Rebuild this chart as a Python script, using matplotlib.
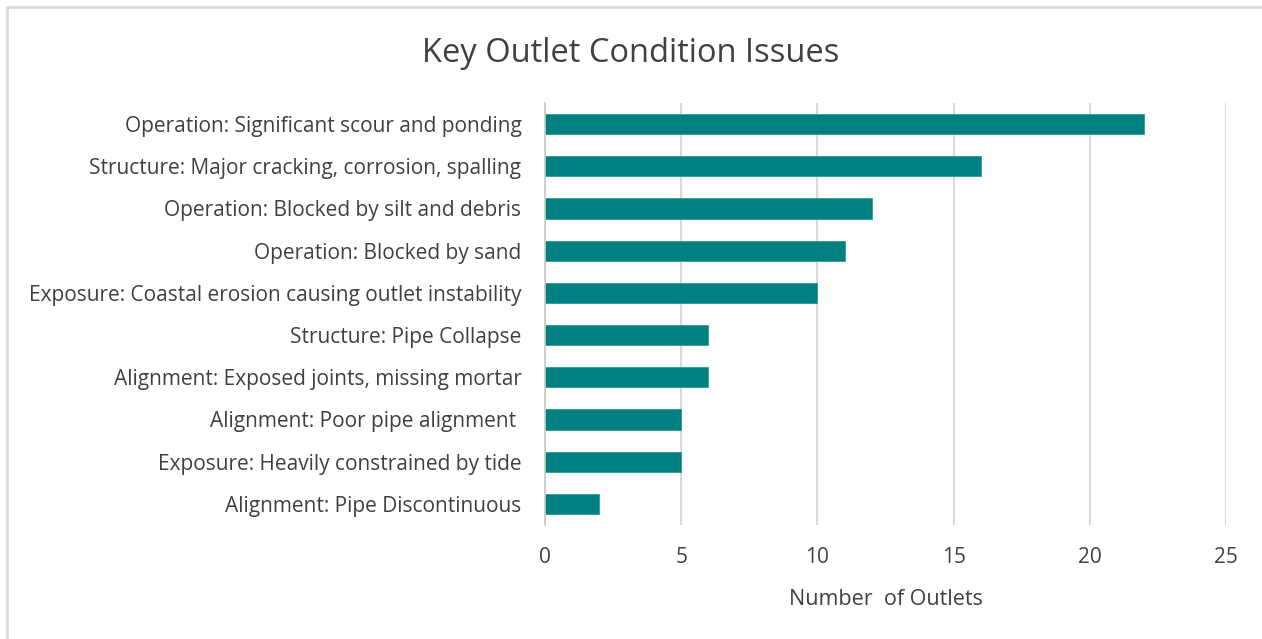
import matplotlib
matplotlib.use("Agg")
import matplotlib.pyplot as plt
from matplotlib.patches import Rectangle

plt.rcParams['font.family'] = ['Open Sans', 'DejaVu Sans']

# condition issues, listed top to bottom as shown on the chart
issues = [
    "Operation: Significant scour and ponding",
    "Structure: Major cracking, corrosion, spalling",
    "Operation: Blocked by silt and debris",
    "Operation: Blocked by sand",
    "Exposure: Coastal erosion causing outlet instability",
    "Structure: Pipe Collapse",
    "Alignment: Exposed joints, missing mortar",
    "Alignment: Poor pipe alignment ",
    "Exposure: Heavily constrained by tide",
    "Alignment: Pipe Discontinuous",
]
outlets = [22, 16, 12, 11, 10, 6, 6, 5, 5, 2]
xticks = [0, 5, 10, 15, 20, 25]

W, H = 1262, 639
fig = plt.figure(figsize=(W / 100, H / 100), dpi=100)
ax = fig.add_axes([545 / W, 1 - 525 / H, (1226 - 545) / W, (525 - 103) / H])

# chart frame
fig.patches.append(Rectangle((7 / W, -0.1), 1.2, 1 - 6.5 / H + 0.1, transform=fig.transFigure,
                             fill=False, edgecolor='#d9d9d9', linewidth=2, zorder=0))

pos = list(range(len(issues)))
ax.barh(pos, outlets, height=0.48, color='#008080', edgecolor='#2a9a9a', linewidth=0.6, zorder=3)
ax.set_ylim(len(issues) - 0.5, -0.5)
ax.set_xlim(0, 25)
ax.set_xticks(xticks)
ax.set_yticks(pos)
ax.set_yticklabels(issues)

ax.grid(axis='x', color='#d9d9d9', linewidth=1.5, zorder=0)
for s in ['top', 'right', 'bottom']:
    ax.spines[s].set_visible(False)
ax.spines['left'].set_color('#c8c8c8')
ax.spines['left'].set_linewidth(1.2)
ax.spines['left'].set_zorder(4)
ax.tick_params(axis='both', length=0, labelsize=15, labelcolor='#404040')
ax.tick_params(axis='y', pad=17)
ax.tick_params(axis='x', pad=16)

ax.set_xlabel("Number  of Outlets", fontsize=15.5, color='#404040', labelpad=15)
fig.text(0.5, 1 - 53 / H, "Key Outlet Condition Issues", ha='center', va='center',
         fontsize=23.5, color='#404040')

fig.savefig("out.png", dpi=100, facecolor='white')
